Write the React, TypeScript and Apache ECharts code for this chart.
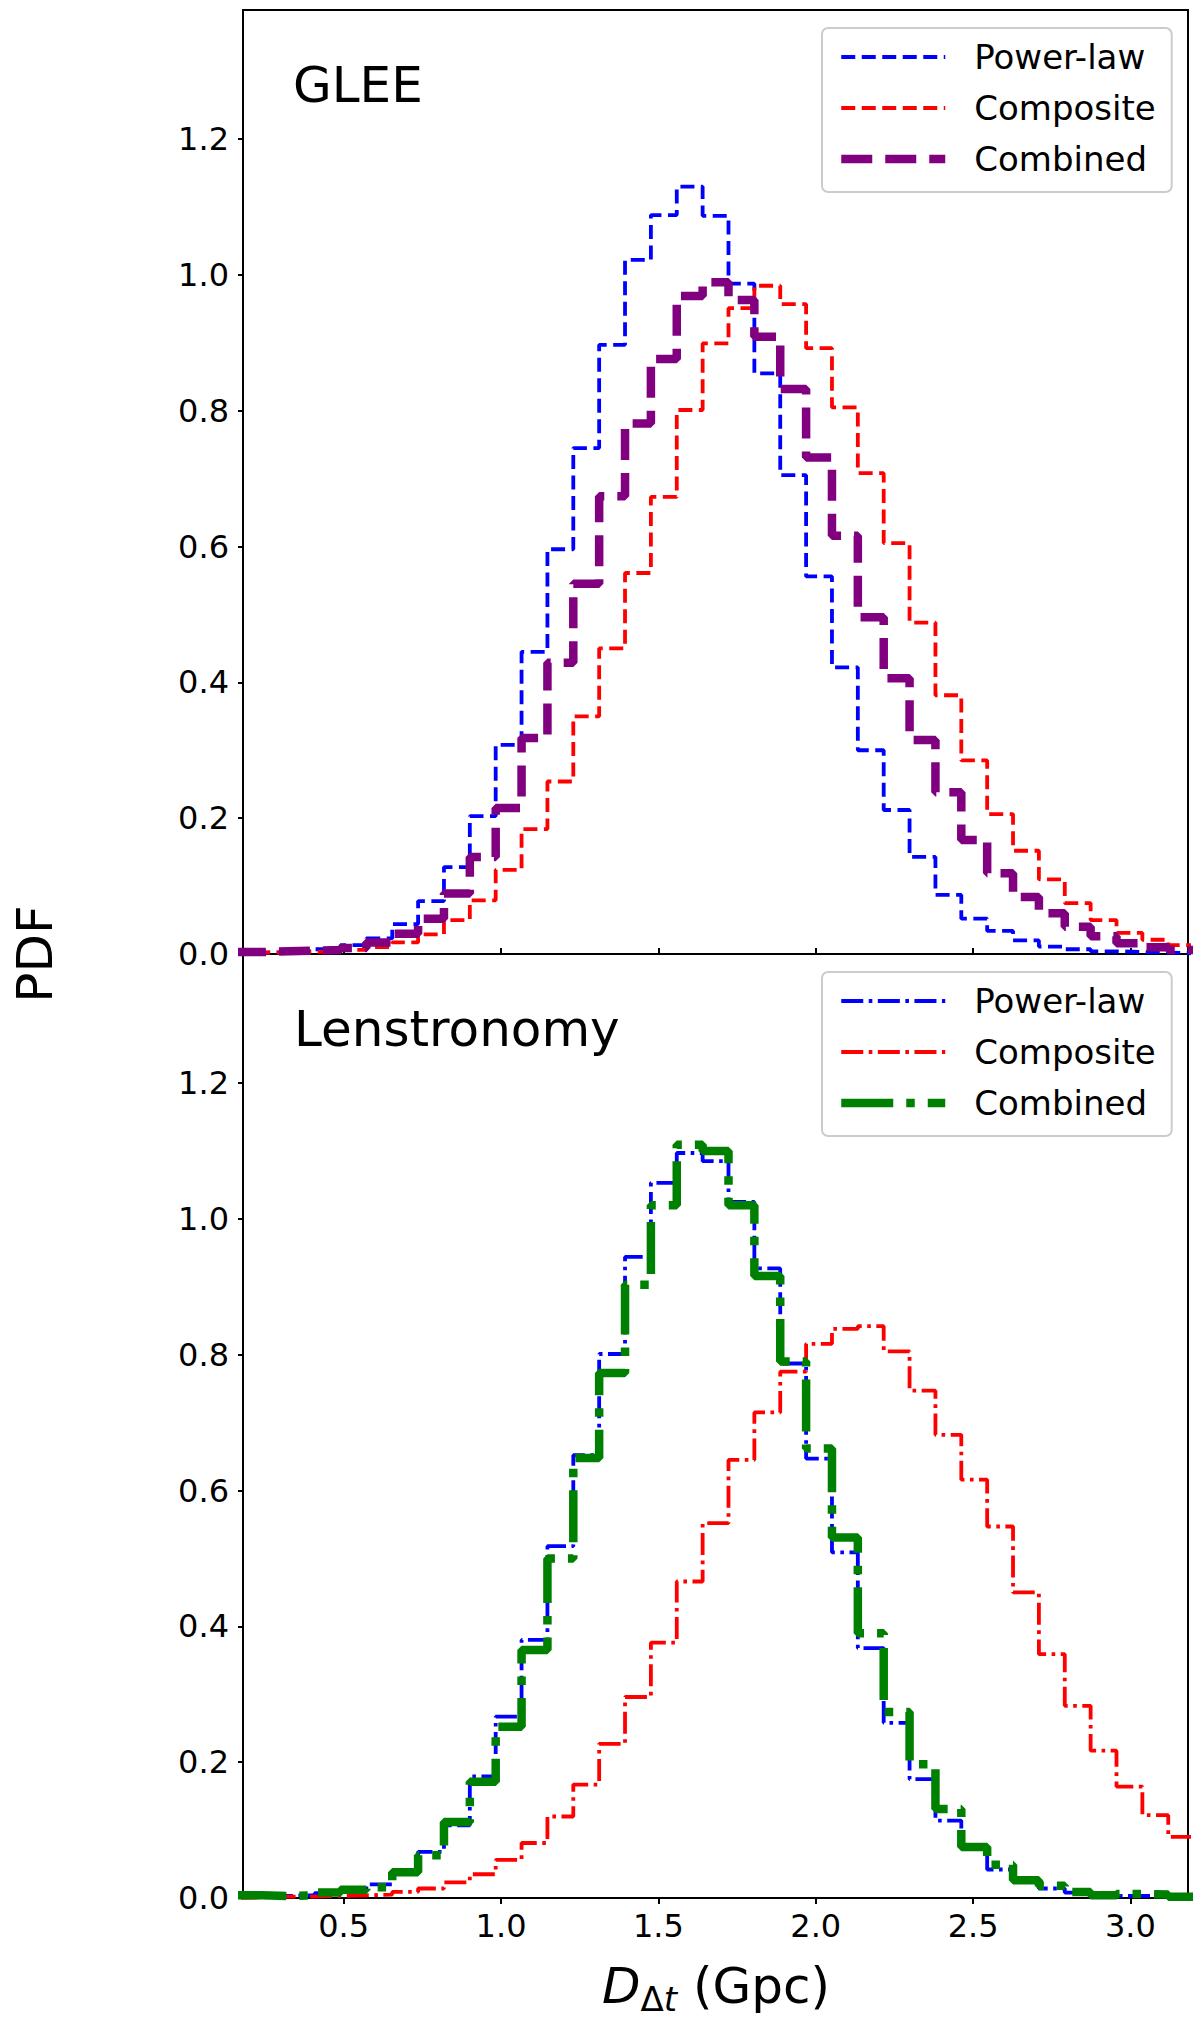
import React, { useEffect, useRef } from 'react';
import * as echarts from 'echarts';

// histogram bins (same grid for every curve)
const binStart = 0.161;
const binWidth = 0.0822;

const xTicks = [0.5, 1.0, 1.5, 2.0, 2.5, 3.0];
const yTicks = [0.0, 0.2, 0.4, 0.6, 0.8, 1.0, 1.2];

// GLEE
const gleePowerLaw = [
  0.002, 0.003, 0.004, 0.007, 0.013, 0.023, 0.044, 0.078, 0.128, 0.203, 0.308, 0.445, 0.596,
  0.745, 0.897, 1.022, 1.088, 1.13, 1.087, 0.987, 0.855, 0.705, 0.556, 0.422, 0.3, 0.212,
  0.143, 0.087, 0.052, 0.034, 0.02, 0.011, 0.007, 0.004, 0.003, 0.002, 0.001,
];
const gleeComposite = [
  0.002, 0.002, 0.003, 0.004, 0.006, 0.01, 0.017, 0.029, 0.05, 0.079, 0.124, 0.184, 0.254,
  0.35, 0.45, 0.561, 0.673, 0.801, 0.899, 0.951, 0.984, 0.957, 0.892, 0.805, 0.708, 0.605,
  0.488, 0.381, 0.285, 0.206, 0.152, 0.11, 0.075, 0.05, 0.031, 0.021, 0.013,
];
const gleeCombined = [
  0.003, 0.004, 0.005, 0.006, 0.009, 0.017, 0.03, 0.052, 0.089, 0.143, 0.215, 0.318, 0.429,
  0.545, 0.674, 0.781, 0.876, 0.969, 0.989, 0.963, 0.909, 0.832, 0.731, 0.616, 0.496, 0.406,
  0.315, 0.238, 0.168, 0.119, 0.084, 0.06, 0.04, 0.026, 0.016, 0.01, 0.006,
];

// Lenstronomy
const lensPowerLaw = [
  0.004, 0.003, 0.004, 0.007, 0.01, 0.02, 0.038, 0.068, 0.107, 0.179, 0.267, 0.38, 0.518,
  0.652, 0.801, 0.944, 1.053, 1.097, 1.085, 1.025, 0.927, 0.787, 0.647, 0.509, 0.368, 0.258,
  0.175, 0.114, 0.073, 0.042, 0.024, 0.014, 0.008, 0.006, 0.003, 0.003, 0.002,
];
const lensComposite = [
  0.001, 0.002, 0.002, 0.003, 0.004, 0.005, 0.009, 0.014, 0.023, 0.035, 0.056, 0.081, 0.12,
  0.167, 0.227, 0.296, 0.376, 0.466, 0.552, 0.645, 0.715, 0.775, 0.816, 0.838, 0.842, 0.805,
  0.747, 0.682, 0.616, 0.547, 0.45, 0.359, 0.283, 0.217, 0.164, 0.122, 0.09,
];
const lensCombined = [
  0.004, 0.003, 0.004, 0.008, 0.012, 0.016, 0.038, 0.063, 0.112, 0.171, 0.252, 0.365, 0.5,
  0.648, 0.773, 0.903, 1.02, 1.109, 1.1, 1.02, 0.916, 0.79, 0.662, 0.531, 0.39, 0.274,
  0.197, 0.131, 0.075, 0.049, 0.026, 0.018, 0.009, 0.004, 0.006, 0.005, 0.002,
];

const FONT = 'DejaVu Sans';

// matplotlib-like step outline: (edge0,0) -> bars -> (edgeN,0)
function stepData(vals: number[]) {
  const pts: number[][] = [[binStart, 0]];
  vals.forEach((v, i) => pts.push([binStart + i * binWidth, v]));
  const end = binStart + vals.length * binWidth;
  pts.push([end, vals[vals.length - 1]]);
  pts.push([end, 0]);
  return pts;
}

const styles: Record<string, { color: string; width: number; dash: number[] }> = {
  'g:Power-law': { color: '#0000ff', width: 3.8, dash: [14, 6.5] },
  'g:Composite': { color: '#ff0000', width: 3.8, dash: [14, 6.5] },
  'g:Combined': { color: '#800080', width: 8.5, dash: [31, 13] },
  'l:Power-law': { color: '#0000ff', width: 3.8, dash: [22, 5.5, 3.6, 5.5] },
  'l:Composite': { color: '#ff0000', width: 3.8, dash: [22, 5.5, 3.6, 5.5] },
  'l:Combined': { color: '#008000', width: 8.5, dash: [52, 13, 8.5, 13] },
};

function makeSeries(name: string, vals: number[], idx: number) {
  const s = styles[name];
  return {
    name,
    type: 'line',
    xAxisIndex: idx,
    yAxisIndex: idx,
    step: 'end',
    symbol: 'none',
    showSymbol: false,
    silent: true,
    clip: true,
    data: stepData(vals),
    itemStyle: { color: s.color },
    lineStyle: { color: s.color, width: s.width, type: s.dash, cap: 'butt' },
  };
}

function makeLegend(names: string[], top: number) {
  return {
    orient: 'vertical',
    left: 822,
    top,
    selectedMode: false,
    itemWidth: 104,
    itemHeight: 20,
    itemGap: 11,
    padding: [9, 16, 13, 15],
    backgroundColor: 'rgba(255,255,255,0.8)',
    borderColor: '#cccccc',
    borderWidth: 2,
    borderRadius: 6,
    formatter: (n: string) => n.split(':')[1],
    textStyle: { fontFamily: FONT, fontSize: 34, color: '#000', lineHeight: 40, padding: [0, 0, 0, 24] },
    data: names.map((n) => ({
      name: n,
      itemStyle: { opacity: 0 },
      lineStyle: { color: styles[n].color, width: styles[n].width, type: styles[n].dash, opacity: 1 },
    })),
  };
}

function makeXAxis(idx: number, showLabels: boolean) {
  return {
    type: 'value',
    gridIndex: idx,
    min: 0.18,
    max: 3.183,
    axisLine: { show: true, onZero: false, lineStyle: { color: '#000', width: 2 } },
    axisTick: {
      show: true,
      inside: !showLabels,
      length: 6,
      customValues: xTicks,
      lineStyle: { color: '#000', width: 2 },
    },
    axisLabel: {
      show: showLabels,
      customValues: xTicks,
      margin: 12,
      fontFamily: FONT,
      fontSize: 32,
      color: '#000',
      formatter: (v: number) => v.toFixed(1),
    },
    splitLine: { show: false },
  };
}

function makeYAxis(idx: number) {
  return {
    type: 'value',
    gridIndex: idx,
    min: 0,
    max: 1.39,
    axisLine: { show: true, lineStyle: { color: '#000', width: 2 } },
    axisTick: { show: true, length: 5, customValues: yTicks, lineStyle: { color: '#000', width: 2 } },
    axisLabel: {
      customValues: yTicks,
      margin: 14,
      fontFamily: FONT,
      fontSize: 32,
      color: '#000',
      formatter: (v: number) => v.toFixed(1),
    },
    splitLine: { show: false },
  };
}

export default function App() {
  const chartRef = useRef<HTMLDivElement>(null);

  useEffect(() => {
    if (!chartRef.current) return;
    const chart = echarts.init(chartRef.current, null, { renderer: 'svg' });

    const option = {
      animation: false,
      backgroundColor: '#fff',
      textStyle: { fontFamily: FONT },
      grid: [
        { left: 243, top: 10, width: 945, height: 944, show: true, borderColor: '#000', borderWidth: 2 },
        { left: 243, top: 954, width: 945, height: 944, show: true, borderColor: '#000', borderWidth: 2 },
      ],
      xAxis: [makeXAxis(0, false), makeXAxis(1, true)],
      yAxis: [makeYAxis(0), makeYAxis(1)],
      legend: [
        makeLegend(['g:Power-law', 'g:Composite', 'g:Combined'], 28),
        makeLegend(['l:Power-law', 'l:Composite', 'l:Combined'], 972),
      ],
      graphic: [
        {
          type: 'text',
          left: 293,
          top: 60,
          style: { text: 'GLEE', fontFamily: FONT, fontSize: 50, fill: '#000' },
        },
        {
          type: 'text',
          left: 294,
          top: 1004,
          style: { text: 'Lenstronomy', fontFamily: FONT, fontSize: 50, fill: '#000' },
        },
        {
          type: 'text',
          x: 35,
          y: 954,
          rotation: Math.PI / 2,
          style: {
            text: 'PDF',
            fontFamily: FONT,
            fontSize: 50,
            fill: '#000',
            align: 'center',
            verticalAlign: 'middle',
          },
        },
        {
          type: 'text',
          x: 716,
          y: 1986,
          style: {
            text: '{d|D}{s|Δ}{t|t}{n| (Gpc)}',
            fontFamily: FONT,
            fill: '#000',
            align: 'center',
            verticalAlign: 'middle',
            rich: {
              d: { fontFamily: FONT, fontSize: 50, fontStyle: 'italic', lineHeight: 60, verticalAlign: 'middle' },
              s: { fontFamily: FONT, fontSize: 34, lineHeight: 40, verticalAlign: 'bottom' },
              t: { fontFamily: FONT, fontSize: 34, fontStyle: 'italic', lineHeight: 40, verticalAlign: 'bottom' },
              n: { fontFamily: FONT, fontSize: 50, lineHeight: 60, verticalAlign: 'middle' },
            },
          },
        },
      ],
      series: [
        makeSeries('g:Power-law', gleePowerLaw, 0),
        makeSeries('g:Composite', gleeComposite, 0),
        makeSeries('g:Combined', gleeCombined, 0),
        makeSeries('l:Power-law', lensPowerLaw, 1),
        makeSeries('l:Composite', lensComposite, 1),
        makeSeries('l:Combined', lensCombined, 1),
      ],
    };

    chart.setOption(option as any);

    return () => {
      chart.dispose();
    };
  }, []);

  return (
    <div
      ref={chartRef}
      style={{ position: 'absolute', left: 0, top: 0, width: '1200px', height: '2027px' }}
    />
  );
}
